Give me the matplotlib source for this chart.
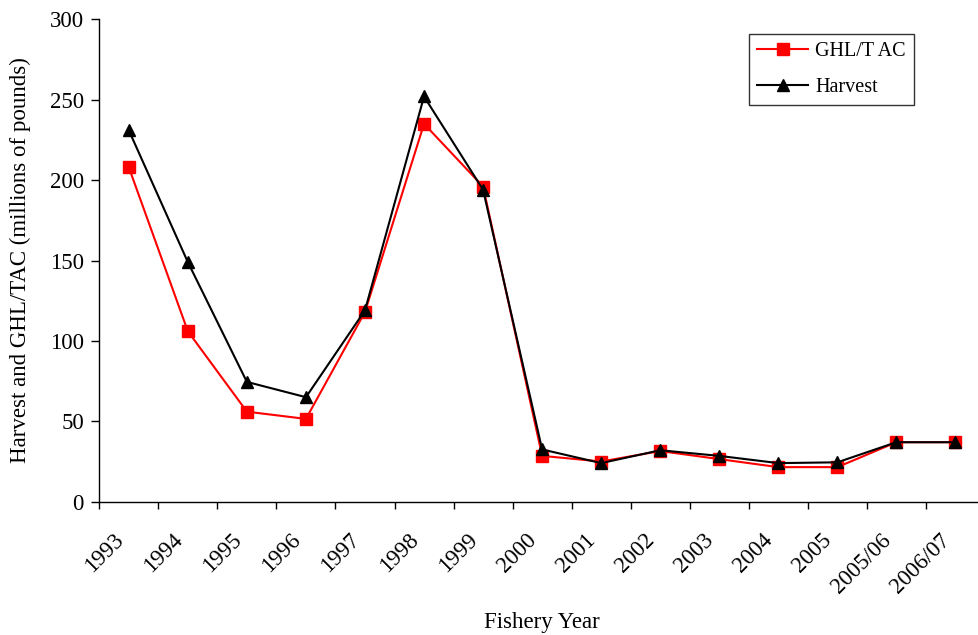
import numpy as np
import matplotlib
matplotlib.use("Agg")
import matplotlib.pyplot as plt
from matplotlib.transforms import ScaledTranslation

plt.rcParams['font.family'] = ['Liberation Serif', 'DejaVu Serif']

# Fishery years and values (millions of pounds)
years = ['1993', '1994', '1995', '1996', '1997', '1998', '1999', '2000',
         '2001', '2002', '2003', '2004', '2005', '2005/06', '2006/07']
ghl_tac = [208, 106, 56, 51.5, 118, 235, 196, 28.5,
           25, 31.5, 26.5, 21.5, 21.5, 37, 37]
harvest = [231, 149, 74.5, 65, 119, 252, 194, 32.5,
           24, 32, 28.5, 24, 24.5, 37, 37]

fs = 16.5

fig = plt.figure(figsize=(9.79, 6.35), dpi=100)
ax = fig.add_axes([0.1014, 0.2099, 0.9047, 0.7597])

x = np.arange(len(years)) + 0.5
ax.plot(x, ghl_tac, color='#ff0000', lw=1.5, marker='s', markersize=8,
        label='GHL/T AC', zorder=3)
ax.plot(x, harvest, color='black', lw=1.5, marker='^', markersize=9,
        label='Harvest', zorder=4)

ax.set_xlim(0, len(years))
ax.set_ylim(0, 300)
ax.set_yticks(range(0, 301, 50))
ax.set_xticks(np.arange(len(years) + 1))
ax.set_xticklabels([])
ax.set_xticks(x, minor=True)
ax.set_xticklabels(years, minor=True, rotation=45, ha='right',
                   rotation_mode='anchor', fontsize=fs)
ax.tick_params(axis='x', which='minor', length=0, pad=20)
ax.tick_params(axis='x', which='major', length=5, width=1, direction='out')
ax.tick_params(axis='y', length=6, width=1, direction='out', labelsize=fs, pad=5)

# shift the rotated year labels a bit to the left, like the original
shift = ScaledTranslation(-0.16, 0, fig.dpi_scale_trans)
for lab in ax.get_xticklabels(minor=True):
    lab.set_transform(lab.get_transform() + shift)

for s in ['top', 'right']:
    ax.spines[s].set_visible(False)
ax.spines['left'].set_linewidth(1)
ax.spines['bottom'].set_linewidth(1)

ax.set_ylabel('Harvest and GHL/TAC (millions of pounds)', fontsize=fs, va='center')
ax.yaxis.set_label_coords(-0.0895, 0.5)
ax.set_xlabel('Fishery Year', fontsize=fs, va='center')
ax.xaxis.set_label_coords(0.5, -0.2494)

leg = ax.legend(loc='upper left', bbox_to_anchor=(0.7336, 0.9695), fontsize=14.5,
                frameon=True, fancybox=False, edgecolor='black',
                handlelength=2.55, handletextpad=0.35, borderpad=0.4,
                labelspacing=0.85, borderaxespad=0)
leg.get_frame().set_linewidth(1)

fig.savefig('out.png', dpi=100)
